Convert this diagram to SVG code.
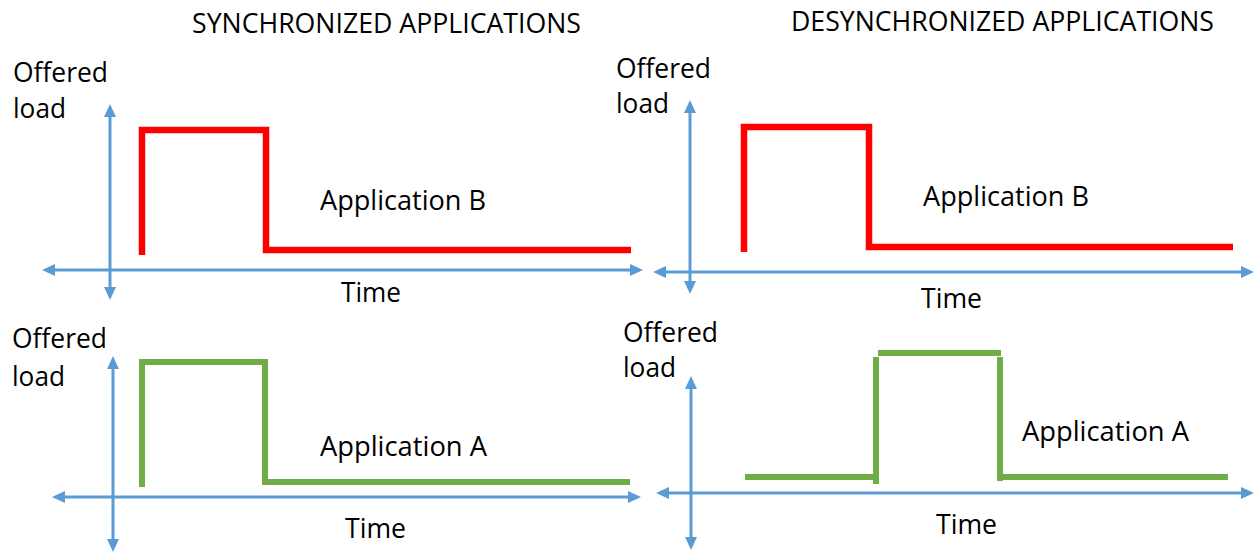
<svg xmlns="http://www.w3.org/2000/svg" width="1257" height="552" viewBox="0 0 1257 552">
<defs>
<marker id="ah" markerUnits="userSpaceOnUse" markerWidth="13" markerHeight="12" refX="0" refY="5.5" orient="auto-start-reverse" viewBox="0 0 12 11">
<path d="M0,0 L12,5.5 L0,11 Z" fill="#5B9BD5"/>
</marker>
</defs>
<style>
.ax{stroke:#5B9BD5;stroke-width:3;fill:none;marker-start:url(#ah);marker-end:url(#ah)}
.red{stroke:#FF0000;stroke-width:6.5;fill:none;stroke-linejoin:miter}
.grn{stroke:#70AD47;stroke-width:6;fill:none;stroke-linejoin:miter}
text{font-family:"Open Sans","Liberation Sans",sans-serif;font-size:26.5px;fill:#000}
</style>
<rect width="1257" height="552" fill="#fff"/>
<g id="titles">
<text x="192" y="33" textLength="389" lengthAdjust="spacingAndGlyphs">SYNCHRONIZED APPLICATIONS</text>
<text x="791" y="31" textLength="423" lengthAdjust="spacingAndGlyphs">DESYNCHRONIZED APPLICATIONS</text>
</g>
<g id="connectors">
<line class="ax" x1="110" y1="117" x2="110" y2="287"/>
<line class="ax" x1="55" y1="270" x2="630" y2="270"/>
<line class="ax" x1="690" y1="113" x2="690" y2="281"/>
<line class="ax" x1="666" y1="272" x2="1241" y2="272"/>
<line class="ax" x1="113" y1="369" x2="113" y2="539"/>
<line class="ax" x1="65" y1="497" x2="628" y2="497"/>
<line class="ax" x1="691" y1="389" x2="691" y2="537"/>
<line class="ax" x1="669" y1="493" x2="1241" y2="493"/>
</g>
<g id="panel-sync-b">
<text x="13" y="82" textLength="95" lengthAdjust="spacingAndGlyphs">Offered</text>
<text x="13" y="118" textLength="53" lengthAdjust="spacingAndGlyphs">load</text>
<path class="red" d="M142,255 V130 H266 V250 H631"/>
<text x="320" y="210" textLength="166" lengthAdjust="spacingAndGlyphs">Application B</text>
<text x="341" y="302" textLength="60" lengthAdjust="spacingAndGlyphs">Time</text>
</g>
<g id="panel-desync-b">
<text x="616" y="78" textLength="95" lengthAdjust="spacingAndGlyphs">Offered</text>
<text x="616" y="113" textLength="53" lengthAdjust="spacingAndGlyphs">load</text>
<path class="red" d="M744,252 V127 H869 V247 H1233"/>
<text x="923" y="206" textLength="166" lengthAdjust="spacingAndGlyphs">Application B</text>
<text x="921" y="308" textLength="61" lengthAdjust="spacingAndGlyphs">Time</text>
</g>
<g id="panel-sync-a">
<text x="12" y="348" textLength="95" lengthAdjust="spacingAndGlyphs">Offered</text>
<text x="12" y="386" textLength="53" lengthAdjust="spacingAndGlyphs">load</text>
<path class="grn" d="M142,487 V362 H265 V482 H630"/>
<text x="320" y="456" textLength="167" lengthAdjust="spacingAndGlyphs">Application A</text>
<text x="345" y="538" textLength="61" lengthAdjust="spacingAndGlyphs">Time</text>
</g>
<g id="panel-desync-a">
<text x="623" y="342" textLength="95" lengthAdjust="spacingAndGlyphs">Offered</text>
<text x="623" y="377" textLength="53" lengthAdjust="spacingAndGlyphs">load</text>
<line class="grn" x1="745" y1="477" x2="873" y2="477"/>
<line class="grn" x1="876" y1="484" x2="876" y2="357"/>
<line class="grn" x1="878" y1="353" x2="1001" y2="353"/>
<line class="grn" x1="1000" y1="357" x2="1000" y2="481"/>
<line class="grn" x1="1003" y1="477" x2="1228" y2="477"/>
<text x="1022" y="441" textLength="167" lengthAdjust="spacingAndGlyphs">Application A</text>
<text x="936" y="534" textLength="61" lengthAdjust="spacingAndGlyphs">Time</text>
</g>
</svg>
